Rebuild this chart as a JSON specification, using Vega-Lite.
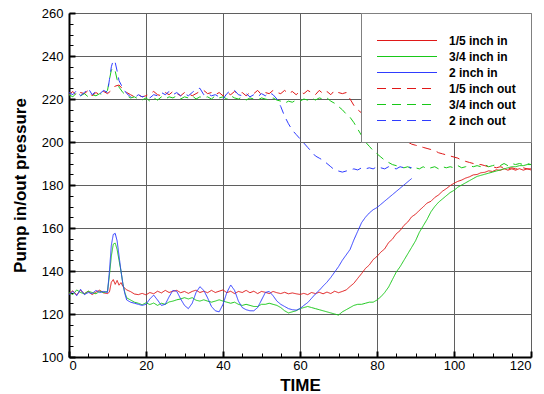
{
  "$schema": "https://vega.github.io/schema/vega-lite/v6.json",
  "width": 462,
  "height": 344,
  "autosize": {"type": "none"},
  "padding": {"left": 69, "top": 13, "right": 13, "bottom": 37},
  "background": "white",
  "config": {
    "view": {"stroke": null},
    "font": "Liberation Sans"
  },
  "data": {
    "values": [
      {"s":"1/5 inch in","t":0,"v":129.5},{"s":"1/5 inch in","t":1,"v":130.8},{"s":"1/5 inch in","t":2,"v":128.9},{"s":"1/5 inch in","t":3,"v":131},{"s":"1/5 inch in","t":4,"v":129.4},{"s":"1/5 inch in","t":5,"v":130.6},{"s":"1/5 inch in","t":6,"v":129},{"s":"1/5 inch in","t":7,"v":130.2},{"s":"1/5 inch in","t":8,"v":131.1},{"s":"1/5 inch in","t":9,"v":129.8},{"s":"1/5 inch in","t":10,"v":129.5},{"s":"1/5 inch in","t":10.5,"v":130.2},{"s":"1/5 inch in","t":11,"v":134.8},{"s":"1/5 inch in","t":11.5,"v":136},{"s":"1/5 inch in","t":12,"v":133.8},{"s":"1/5 inch in","t":12.5,"v":135.6},{"s":"1/5 inch in","t":13,"v":133.4},{"s":"1/5 inch in","t":13.5,"v":134.6},{"s":"1/5 inch in","t":14,"v":132.8},{"s":"1/5 inch in","t":15,"v":131.2},{"s":"1/5 inch in","t":16,"v":130.4},{"s":"1/5 inch in","t":17,"v":129.3},{"s":"1/5 inch in","t":18,"v":129},{"s":"1/5 inch in","t":19,"v":129.6},{"s":"1/5 inch in","t":20,"v":128.9},{"s":"1/5 inch in","t":21,"v":130},{"s":"1/5 inch in","t":22,"v":129.4},{"s":"1/5 inch in","t":23,"v":130.6},{"s":"1/5 inch in","t":24,"v":129.8},{"s":"1/5 inch in","t":25,"v":131},{"s":"1/5 inch in","t":26,"v":130},{"s":"1/5 inch in","t":27,"v":130.6},{"s":"1/5 inch in","t":28,"v":131},{"s":"1/5 inch in","t":29,"v":129.9},{"s":"1/5 inch in","t":30,"v":130.5},{"s":"1/5 inch in","t":31,"v":129.6},{"s":"1/5 inch in","t":32,"v":130.5},{"s":"1/5 inch in","t":33,"v":131.1},{"s":"1/5 inch in","t":34,"v":130},{"s":"1/5 inch in","t":35,"v":130.6},{"s":"1/5 inch in","t":36,"v":129.9},{"s":"1/5 inch in","t":37,"v":131},{"s":"1/5 inch in","t":38,"v":130},{"s":"1/5 inch in","t":39,"v":130.6},{"s":"1/5 inch in","t":40,"v":131.2},{"s":"1/5 inch in","t":41,"v":129.9},{"s":"1/5 inch in","t":42,"v":130.6},{"s":"1/5 inch in","t":43,"v":129.5},{"s":"1/5 inch in","t":44,"v":130.5},{"s":"1/5 inch in","t":45,"v":130},{"s":"1/5 inch in","t":46,"v":131},{"s":"1/5 inch in","t":47,"v":129.9},{"s":"1/5 inch in","t":48,"v":130.6},{"s":"1/5 inch in","t":49,"v":129.5},{"s":"1/5 inch in","t":50,"v":130.5},{"s":"1/5 inch in","t":51,"v":130.1},{"s":"1/5 inch in","t":52,"v":129.5},{"s":"1/5 inch in","t":53,"v":130.5},{"s":"1/5 inch in","t":54,"v":129.9},{"s":"1/5 inch in","t":55,"v":129.5},{"s":"1/5 inch in","t":56,"v":130.1},{"s":"1/5 inch in","t":57,"v":129.4},{"s":"1/5 inch in","t":58,"v":129.8},{"s":"1/5 inch in","t":59,"v":129.4},{"s":"1/5 inch in","t":60,"v":129.1},{"s":"1/5 inch in","t":61,"v":129.6},{"s":"1/5 inch in","t":62,"v":129},{"s":"1/5 inch in","t":63,"v":130},{"s":"1/5 inch in","t":64,"v":129.5},{"s":"1/5 inch in","t":65,"v":130.1},{"s":"1/5 inch in","t":66,"v":129.4},{"s":"1/5 inch in","t":67,"v":130.2},{"s":"1/5 inch in","t":68,"v":129.5},{"s":"1/5 inch in","t":69,"v":130.6},{"s":"1/5 inch in","t":70,"v":129.9},{"s":"1/5 inch in","t":71,"v":130.5},{"s":"1/5 inch in","t":72,"v":131.2},{"s":"1/5 inch in","t":73,"v":132.8},{"s":"1/5 inch in","t":74,"v":134.3},{"s":"1/5 inch in","t":75,"v":136.6},{"s":"1/5 inch in","t":76,"v":138.8},{"s":"1/5 inch in","t":77,"v":141.2},{"s":"1/5 inch in","t":78,"v":142.8},{"s":"1/5 inch in","t":79,"v":145.3},{"s":"1/5 inch in","t":80,"v":146.8},{"s":"1/5 inch in","t":81,"v":148.8},{"s":"1/5 inch in","t":82,"v":150.3},{"s":"1/5 inch in","t":83,"v":153.2},{"s":"1/5 inch in","t":84,"v":154.8},{"s":"1/5 inch in","t":85,"v":157.3},{"s":"1/5 inch in","t":86,"v":158.8},{"s":"1/5 inch in","t":87,"v":161.2},{"s":"1/5 inch in","t":88,"v":162.8},{"s":"1/5 inch in","t":89,"v":165.2},{"s":"1/5 inch in","t":90,"v":166.4},{"s":"1/5 inch in","t":91,"v":168.2},{"s":"1/5 inch in","t":92,"v":169.8},{"s":"1/5 inch in","t":93,"v":171.6},{"s":"1/5 inch in","t":94,"v":172.4},{"s":"1/5 inch in","t":95,"v":174.2},{"s":"1/5 inch in","t":96,"v":175.4},{"s":"1/5 inch in","t":97,"v":177.1},{"s":"1/5 inch in","t":98,"v":178.3},{"s":"1/5 inch in","t":99,"v":179.7},{"s":"1/5 inch in","t":100,"v":180.8},{"s":"1/5 inch in","t":101,"v":181.7},{"s":"1/5 inch in","t":102,"v":182.3},{"s":"1/5 inch in","t":103,"v":183.2},{"s":"1/5 inch in","t":104,"v":183.8},{"s":"1/5 inch in","t":105,"v":184.7},{"s":"1/5 inch in","t":106,"v":184.9},{"s":"1/5 inch in","t":107,"v":185.7},{"s":"1/5 inch in","t":108,"v":185.9},{"s":"1/5 inch in","t":109,"v":186.6},{"s":"1/5 inch in","t":110,"v":186.3},{"s":"1/5 inch in","t":111,"v":187.1},{"s":"1/5 inch in","t":112,"v":186.8},{"s":"1/5 inch in","t":113,"v":187.6},{"s":"1/5 inch in","t":114,"v":186.9},{"s":"1/5 inch in","t":115,"v":187.5},{"s":"1/5 inch in","t":116,"v":186.9},{"s":"1/5 inch in","t":117,"v":187.6},{"s":"1/5 inch in","t":118,"v":186.9},{"s":"1/5 inch in","t":119,"v":187.5},{"s":"1/5 inch in","t":120,"v":187},

      {"s":"3/4 inch in","t":0,"v":130},{"s":"3/4 inch in","t":1,"v":129},{"s":"3/4 inch in","t":2,"v":131.2},{"s":"3/4 inch in","t":3,"v":130},{"s":"3/4 inch in","t":4,"v":129.4},{"s":"3/4 inch in","t":5,"v":130.6},{"s":"3/4 inch in","t":6,"v":130},{"s":"3/4 inch in","t":7,"v":129.4},{"s":"3/4 inch in","t":8,"v":130.6},{"s":"3/4 inch in","t":9,"v":130},{"s":"3/4 inch in","t":10,"v":130.5},{"s":"3/4 inch in","t":10.5,"v":138},{"s":"3/4 inch in","t":11,"v":147},{"s":"3/4 inch in","t":11.5,"v":152.5},{"s":"3/4 inch in","t":12,"v":153},{"s":"3/4 inch in","t":12.5,"v":150},{"s":"3/4 inch in","t":13,"v":145},{"s":"3/4 inch in","t":13.5,"v":140},{"s":"3/4 inch in","t":14,"v":134},{"s":"3/4 inch in","t":14.5,"v":130},{"s":"3/4 inch in","t":15,"v":127.5},{"s":"3/4 inch in","t":16,"v":126.5},{"s":"3/4 inch in","t":17,"v":125.5},{"s":"3/4 inch in","t":18,"v":125},{"s":"3/4 inch in","t":19,"v":124.3},{"s":"3/4 inch in","t":20,"v":125.2},{"s":"3/4 inch in","t":21,"v":124.4},{"s":"3/4 inch in","t":22,"v":125.1},{"s":"3/4 inch in","t":23,"v":124},{"s":"3/4 inch in","t":24,"v":125},{"s":"3/4 inch in","t":25,"v":124.5},{"s":"3/4 inch in","t":26,"v":125.6},{"s":"3/4 inch in","t":27,"v":126},{"s":"3/4 inch in","t":28,"v":126.6},{"s":"3/4 inch in","t":29,"v":127},{"s":"3/4 inch in","t":30,"v":127.6},{"s":"3/4 inch in","t":31,"v":127},{"s":"3/4 inch in","t":32,"v":127.6},{"s":"3/4 inch in","t":33,"v":126.4},{"s":"3/4 inch in","t":34,"v":126},{"s":"3/4 inch in","t":35,"v":126.6},{"s":"3/4 inch in","t":36,"v":126},{"s":"3/4 inch in","t":37,"v":125.5},{"s":"3/4 inch in","t":38,"v":126},{"s":"3/4 inch in","t":39,"v":126.6},{"s":"3/4 inch in","t":40,"v":126},{"s":"3/4 inch in","t":41,"v":125.5},{"s":"3/4 inch in","t":42,"v":125},{"s":"3/4 inch in","t":43,"v":125.5},{"s":"3/4 inch in","t":44,"v":124.5},{"s":"3/4 inch in","t":45,"v":124},{"s":"3/4 inch in","t":46,"v":124.5},{"s":"3/4 inch in","t":47,"v":124},{"s":"3/4 inch in","t":48,"v":123.5},{"s":"3/4 inch in","t":49,"v":123.5},{"s":"3/4 inch in","t":50,"v":124.5},{"s":"3/4 inch in","t":51,"v":124.5},{"s":"3/4 inch in","t":52,"v":125},{"s":"3/4 inch in","t":53,"v":124.5},{"s":"3/4 inch in","t":54,"v":124},{"s":"3/4 inch in","t":55,"v":123},{"s":"3/4 inch in","t":56,"v":121.5},{"s":"3/4 inch in","t":57,"v":120.5},{"s":"3/4 inch in","t":58,"v":121},{"s":"3/4 inch in","t":59,"v":121.5},{"s":"3/4 inch in","t":60,"v":122.5},{"s":"3/4 inch in","t":61,"v":123},{"s":"3/4 inch in","t":62,"v":123.5},{"s":"3/4 inch in","t":63,"v":123},{"s":"3/4 inch in","t":64,"v":122.5},{"s":"3/4 inch in","t":65,"v":122},{"s":"3/4 inch in","t":66,"v":121.5},{"s":"3/4 inch in","t":67,"v":121},{"s":"3/4 inch in","t":68,"v":120.5},{"s":"3/4 inch in","t":69,"v":120},{"s":"3/4 inch in","t":70,"v":119.5},{"s":"3/4 inch in","t":71,"v":121},{"s":"3/4 inch in","t":72,"v":122},{"s":"3/4 inch in","t":73,"v":123},{"s":"3/4 inch in","t":74,"v":124},{"s":"3/4 inch in","t":75,"v":124.5},{"s":"3/4 inch in","t":76,"v":124.5},{"s":"3/4 inch in","t":77,"v":125},{"s":"3/4 inch in","t":78,"v":125.5},{"s":"3/4 inch in","t":79,"v":125.5},{"s":"3/4 inch in","t":80,"v":126.5},{"s":"3/4 inch in","t":81,"v":128},{"s":"3/4 inch in","t":82,"v":130},{"s":"3/4 inch in","t":83,"v":132.5},{"s":"3/4 inch in","t":84,"v":136},{"s":"3/4 inch in","t":85,"v":139.5},{"s":"3/4 inch in","t":86,"v":142},{"s":"3/4 inch in","t":87,"v":145},{"s":"3/4 inch in","t":88,"v":148},{"s":"3/4 inch in","t":89,"v":151},{"s":"3/4 inch in","t":90,"v":154},{"s":"3/4 inch in","t":91,"v":158},{"s":"3/4 inch in","t":92,"v":161},{"s":"3/4 inch in","t":93,"v":164},{"s":"3/4 inch in","t":94,"v":167.5},{"s":"3/4 inch in","t":95,"v":170},{"s":"3/4 inch in","t":96,"v":172},{"s":"3/4 inch in","t":97,"v":173.5},{"s":"3/4 inch in","t":98,"v":175},{"s":"3/4 inch in","t":99,"v":176.5},{"s":"3/4 inch in","t":100,"v":177.5},{"s":"3/4 inch in","t":101,"v":179},{"s":"3/4 inch in","t":102,"v":180},{"s":"3/4 inch in","t":103,"v":181},{"s":"3/4 inch in","t":104,"v":182},{"s":"3/4 inch in","t":105,"v":183},{"s":"3/4 inch in","t":106,"v":184},{"s":"3/4 inch in","t":107,"v":184.5},{"s":"3/4 inch in","t":108,"v":185},{"s":"3/4 inch in","t":109,"v":185.5},{"s":"3/4 inch in","t":110,"v":186},{"s":"3/4 inch in","t":111,"v":186.5},{"s":"3/4 inch in","t":112,"v":187},{"s":"3/4 inch in","t":113,"v":187.5},{"s":"3/4 inch in","t":114,"v":188},{"s":"3/4 inch in","t":115,"v":188.5},{"s":"3/4 inch in","t":116,"v":188.5},{"s":"3/4 inch in","t":117,"v":189},{"s":"3/4 inch in","t":118,"v":189},{"s":"3/4 inch in","t":119,"v":189.5},{"s":"3/4 inch in","t":120,"v":189.5},

      {"s":"2 inch in","t":0,"v":129},{"s":"2 inch in","t":1,"v":130.5},{"s":"2 inch in","t":2,"v":128.5},{"s":"2 inch in","t":3,"v":131.5},{"s":"2 inch in","t":4,"v":129},{"s":"2 inch in","t":5,"v":130},{"s":"2 inch in","t":6,"v":129.5},{"s":"2 inch in","t":7,"v":131},{"s":"2 inch in","t":8,"v":130},{"s":"2 inch in","t":9,"v":130.5},{"s":"2 inch in","t":10,"v":130},{"s":"2 inch in","t":10.5,"v":140},{"s":"2 inch in","t":11,"v":152},{"s":"2 inch in","t":11.5,"v":157},{"s":"2 inch in","t":12,"v":157.5},{"s":"2 inch in","t":12.5,"v":154},{"s":"2 inch in","t":13,"v":147},{"s":"2 inch in","t":13.5,"v":140},{"s":"2 inch in","t":14,"v":134},{"s":"2 inch in","t":14.5,"v":129.5},{"s":"2 inch in","t":15,"v":126.5},{"s":"2 inch in","t":16,"v":125.5},{"s":"2 inch in","t":17,"v":125},{"s":"2 inch in","t":18,"v":124.5},{"s":"2 inch in","t":19,"v":124},{"s":"2 inch in","t":20,"v":124.5},{"s":"2 inch in","t":21,"v":127},{"s":"2 inch in","t":22,"v":128.8},{"s":"2 inch in","t":23,"v":126.5},{"s":"2 inch in","t":24,"v":124},{"s":"2 inch in","t":25,"v":124.5},{"s":"2 inch in","t":26,"v":128},{"s":"2 inch in","t":27,"v":131},{"s":"2 inch in","t":28,"v":130.5},{"s":"2 inch in","t":29,"v":127},{"s":"2 inch in","t":30,"v":124},{"s":"2 inch in","t":31,"v":122.5},{"s":"2 inch in","t":32,"v":125},{"s":"2 inch in","t":33,"v":130},{"s":"2 inch in","t":34,"v":132.7},{"s":"2 inch in","t":35,"v":131},{"s":"2 inch in","t":36,"v":127.5},{"s":"2 inch in","t":37,"v":123.5},{"s":"2 inch in","t":38,"v":121.5},{"s":"2 inch in","t":39,"v":121},{"s":"2 inch in","t":40,"v":124.5},{"s":"2 inch in","t":41,"v":130},{"s":"2 inch in","t":42,"v":133.5},{"s":"2 inch in","t":43,"v":131},{"s":"2 inch in","t":44,"v":126},{"s":"2 inch in","t":45,"v":123},{"s":"2 inch in","t":46,"v":122},{"s":"2 inch in","t":47,"v":121.5},{"s":"2 inch in","t":48,"v":121.5},{"s":"2 inch in","t":49,"v":123},{"s":"2 inch in","t":50,"v":126.5},{"s":"2 inch in","t":51,"v":130},{"s":"2 inch in","t":52,"v":130.5},{"s":"2 inch in","t":53,"v":128.5},{"s":"2 inch in","t":54,"v":126},{"s":"2 inch in","t":55,"v":124.5},{"s":"2 inch in","t":56,"v":123.5},{"s":"2 inch in","t":57,"v":122.5},{"s":"2 inch in","t":58,"v":122},{"s":"2 inch in","t":59,"v":121.8},{"s":"2 inch in","t":60,"v":122.5},{"s":"2 inch in","t":61,"v":124},{"s":"2 inch in","t":62,"v":125.3},{"s":"2 inch in","t":63,"v":127.3},{"s":"2 inch in","t":64,"v":129.3},{"s":"2 inch in","t":65,"v":131},{"s":"2 inch in","t":66,"v":133},{"s":"2 inch in","t":67,"v":134.8},{"s":"2 inch in","t":68,"v":137},{"s":"2 inch in","t":69,"v":139.5},{"s":"2 inch in","t":70,"v":142},{"s":"2 inch in","t":71,"v":145},{"s":"2 inch in","t":72,"v":147.5},{"s":"2 inch in","t":73,"v":150},{"s":"2 inch in","t":74,"v":154.5},{"s":"2 inch in","t":75,"v":158.5},{"s":"2 inch in","t":76,"v":162.5},{"s":"2 inch in","t":77,"v":165},{"s":"2 inch in","t":78,"v":167},{"s":"2 inch in","t":79,"v":168.5},{"s":"2 inch in","t":80,"v":169.5},{"s":"2 inch in","t":81,"v":171},{"s":"2 inch in","t":82,"v":172.5},{"s":"2 inch in","t":83,"v":174},{"s":"2 inch in","t":84,"v":175.5},{"s":"2 inch in","t":85,"v":177},{"s":"2 inch in","t":86,"v":178.5},{"s":"2 inch in","t":87,"v":180},{"s":"2 inch in","t":88,"v":181.5},{"s":"2 inch in","t":89,"v":183},

      {"s":"1/5 inch out","t":0,"v":222},{"s":"1/5 inch out","t":1,"v":223.5},{"s":"1/5 inch out","t":2,"v":221.5},{"s":"1/5 inch out","t":3,"v":223},{"s":"1/5 inch out","t":4,"v":222.5},{"s":"1/5 inch out","t":5,"v":224},{"s":"1/5 inch out","t":6,"v":221.5},{"s":"1/5 inch out","t":7,"v":223},{"s":"1/5 inch out","t":8,"v":222},{"s":"1/5 inch out","t":9,"v":223.5},{"s":"1/5 inch out","t":10,"v":222.5},{"s":"1/5 inch out","t":11,"v":224},{"s":"1/5 inch out","t":12,"v":226},{"s":"1/5 inch out","t":13,"v":226.5},{"s":"1/5 inch out","t":14,"v":224.5},{"s":"1/5 inch out","t":15,"v":223},{"s":"1/5 inch out","t":16,"v":222},{"s":"1/5 inch out","t":17,"v":221},{"s":"1/5 inch out","t":18,"v":222},{"s":"1/5 inch out","t":19,"v":221},{"s":"1/5 inch out","t":20,"v":221.5},{"s":"1/5 inch out","t":21,"v":222.5},{"s":"1/5 inch out","t":22,"v":223.5},{"s":"1/5 inch out","t":23,"v":222},{"s":"1/5 inch out","t":24,"v":221.5},{"s":"1/5 inch out","t":25,"v":223},{"s":"1/5 inch out","t":26,"v":222},{"s":"1/5 inch out","t":27,"v":223.5},{"s":"1/5 inch out","t":28,"v":222.5},{"s":"1/5 inch out","t":29,"v":221.5},{"s":"1/5 inch out","t":30,"v":223},{"s":"1/5 inch out","t":31,"v":222.5},{"s":"1/5 inch out","t":32,"v":221.5},{"s":"1/5 inch out","t":33,"v":222.5},{"s":"1/5 inch out","t":34,"v":223.5},{"s":"1/5 inch out","t":35,"v":224},{"s":"1/5 inch out","t":36,"v":222.5},{"s":"1/5 inch out","t":37,"v":223},{"s":"1/5 inch out","t":38,"v":222},{"s":"1/5 inch out","t":39,"v":223},{"s":"1/5 inch out","t":40,"v":221.5},{"s":"1/5 inch out","t":41,"v":223},{"s":"1/5 inch out","t":42,"v":222},{"s":"1/5 inch out","t":43,"v":223.5},{"s":"1/5 inch out","t":44,"v":222.5},{"s":"1/5 inch out","t":45,"v":223},{"s":"1/5 inch out","t":46,"v":221.5},{"s":"1/5 inch out","t":47,"v":223},{"s":"1/5 inch out","t":48,"v":222.5},{"s":"1/5 inch out","t":49,"v":224},{"s":"1/5 inch out","t":50,"v":222},{"s":"1/5 inch out","t":51,"v":223},{"s":"1/5 inch out","t":52,"v":222.5},{"s":"1/5 inch out","t":53,"v":224},{"s":"1/5 inch out","t":54,"v":223},{"s":"1/5 inch out","t":55,"v":222.5},{"s":"1/5 inch out","t":56,"v":224},{"s":"1/5 inch out","t":57,"v":222.5},{"s":"1/5 inch out","t":58,"v":223.5},{"s":"1/5 inch out","t":59,"v":222},{"s":"1/5 inch out","t":60,"v":223.5},{"s":"1/5 inch out","t":61,"v":222.5},{"s":"1/5 inch out","t":62,"v":224},{"s":"1/5 inch out","t":63,"v":223},{"s":"1/5 inch out","t":64,"v":222},{"s":"1/5 inch out","t":65,"v":224},{"s":"1/5 inch out","t":66,"v":222.5},{"s":"1/5 inch out","t":67,"v":223.5},{"s":"1/5 inch out","t":68,"v":222},{"s":"1/5 inch out","t":69,"v":224},{"s":"1/5 inch out","t":70,"v":223},{"s":"1/5 inch out","t":71,"v":222.5},{"s":"1/5 inch out","t":72,"v":223},{"s":"1/5 inch out","t":73,"v":220},{"s":"1/5 inch out","t":74,"v":217},{"s":"1/5 inch out","t":75,"v":215},{"s":"1/5 inch out","t":76,"v":213.5},{"s":"1/5 inch out","t":77,"v":212},{"s":"1/5 inch out","t":78,"v":210.5},{"s":"1/5 inch out","t":79,"v":209},{"s":"1/5 inch out","t":80,"v":208},{"s":"1/5 inch out","t":81,"v":207},{"s":"1/5 inch out","t":82,"v":205.5},{"s":"1/5 inch out","t":83,"v":204},{"s":"1/5 inch out","t":84,"v":203},{"s":"1/5 inch out","t":85,"v":202},{"s":"1/5 inch out","t":86,"v":201},{"s":"1/5 inch out","t":87,"v":200.5},{"s":"1/5 inch out","t":88,"v":200},{"s":"1/5 inch out","t":89,"v":199},{"s":"1/5 inch out","t":90,"v":198.5},{"s":"1/5 inch out","t":91,"v":198},{"s":"1/5 inch out","t":92,"v":197.5},{"s":"1/5 inch out","t":93,"v":197},{"s":"1/5 inch out","t":94,"v":196.5},{"s":"1/5 inch out","t":95,"v":196},{"s":"1/5 inch out","t":96,"v":195},{"s":"1/5 inch out","t":97,"v":194.5},{"s":"1/5 inch out","t":98,"v":194},{"s":"1/5 inch out","t":99,"v":193.5},{"s":"1/5 inch out","t":100,"v":193},{"s":"1/5 inch out","t":101,"v":192.5},{"s":"1/5 inch out","t":102,"v":191.5},{"s":"1/5 inch out","t":103,"v":191},{"s":"1/5 inch out","t":104,"v":190.5},{"s":"1/5 inch out","t":105,"v":190},{"s":"1/5 inch out","t":106,"v":189.5},{"s":"1/5 inch out","t":107,"v":189.5},{"s":"1/5 inch out","t":108,"v":189},{"s":"1/5 inch out","t":109,"v":188.5},{"s":"1/5 inch out","t":110,"v":188.5},{"s":"1/5 inch out","t":111,"v":188},{"s":"1/5 inch out","t":112,"v":188.5},{"s":"1/5 inch out","t":113,"v":188},{"s":"1/5 inch out","t":114,"v":187.5},{"s":"1/5 inch out","t":115,"v":188},{"s":"1/5 inch out","t":116,"v":187.5},{"s":"1/5 inch out","t":117,"v":187.5},{"s":"1/5 inch out","t":118,"v":188},{"s":"1/5 inch out","t":119,"v":187.5},{"s":"1/5 inch out","t":120,"v":187.5},

      {"s":"3/4 inch out","t":0,"v":222},{"s":"3/4 inch out","t":1,"v":221},{"s":"3/4 inch out","t":2,"v":223},{"s":"3/4 inch out","t":3,"v":221.5},{"s":"3/4 inch out","t":4,"v":222.5},{"s":"3/4 inch out","t":5,"v":221},{"s":"3/4 inch out","t":6,"v":222},{"s":"3/4 inch out","t":7,"v":221.5},{"s":"3/4 inch out","t":8,"v":222.5},{"s":"3/4 inch out","t":9,"v":222},{"s":"3/4 inch out","t":10,"v":224},{"s":"3/4 inch out","t":10.5,"v":229},{"s":"3/4 inch out","t":11,"v":233.5},{"s":"3/4 inch out","t":11.5,"v":234.5},{"s":"3/4 inch out","t":12,"v":233},{"s":"3/4 inch out","t":12.5,"v":229},{"s":"3/4 inch out","t":13,"v":225.5},{"s":"3/4 inch out","t":14,"v":223},{"s":"3/4 inch out","t":15,"v":221.5},{"s":"3/4 inch out","t":16,"v":220.5},{"s":"3/4 inch out","t":17,"v":221},{"s":"3/4 inch out","t":18,"v":220},{"s":"3/4 inch out","t":19,"v":219.5},{"s":"3/4 inch out","t":20,"v":220.5},{"s":"3/4 inch out","t":21,"v":219},{"s":"3/4 inch out","t":22,"v":220.5},{"s":"3/4 inch out","t":23,"v":219.5},{"s":"3/4 inch out","t":24,"v":221},{"s":"3/4 inch out","t":25,"v":220},{"s":"3/4 inch out","t":26,"v":221},{"s":"3/4 inch out","t":27,"v":220.5},{"s":"3/4 inch out","t":28,"v":221.5},{"s":"3/4 inch out","t":29,"v":220},{"s":"3/4 inch out","t":30,"v":221},{"s":"3/4 inch out","t":31,"v":220.5},{"s":"3/4 inch out","t":32,"v":221.5},{"s":"3/4 inch out","t":33,"v":220},{"s":"3/4 inch out","t":34,"v":221},{"s":"3/4 inch out","t":35,"v":220.5},{"s":"3/4 inch out","t":36,"v":221},{"s":"3/4 inch out","t":37,"v":220},{"s":"3/4 inch out","t":38,"v":221.5},{"s":"3/4 inch out","t":39,"v":220.5},{"s":"3/4 inch out","t":40,"v":221},{"s":"3/4 inch out","t":41,"v":220},{"s":"3/4 inch out","t":42,"v":221.5},{"s":"3/4 inch out","t":43,"v":220.5},{"s":"3/4 inch out","t":44,"v":220},{"s":"3/4 inch out","t":45,"v":221},{"s":"3/4 inch out","t":46,"v":219.5},{"s":"3/4 inch out","t":47,"v":220.5},{"s":"3/4 inch out","t":48,"v":220},{"s":"3/4 inch out","t":49,"v":219.5},{"s":"3/4 inch out","t":50,"v":220.5},{"s":"3/4 inch out","t":51,"v":220},{"s":"3/4 inch out","t":52,"v":219.5},{"s":"3/4 inch out","t":53,"v":220.5},{"s":"3/4 inch out","t":54,"v":219.5},{"s":"3/4 inch out","t":55,"v":219},{"s":"3/4 inch out","t":56,"v":218},{"s":"3/4 inch out","t":57,"v":219},{"s":"3/4 inch out","t":58,"v":218.5},{"s":"3/4 inch out","t":59,"v":219.5},{"s":"3/4 inch out","t":60,"v":219},{"s":"3/4 inch out","t":61,"v":220},{"s":"3/4 inch out","t":62,"v":219.5},{"s":"3/4 inch out","t":63,"v":220.5},{"s":"3/4 inch out","t":64,"v":219.5},{"s":"3/4 inch out","t":65,"v":220.5},{"s":"3/4 inch out","t":66,"v":220},{"s":"3/4 inch out","t":67,"v":220.5},{"s":"3/4 inch out","t":68,"v":219},{"s":"3/4 inch out","t":69,"v":218},{"s":"3/4 inch out","t":70,"v":216.5},{"s":"3/4 inch out","t":71,"v":215},{"s":"3/4 inch out","t":72,"v":213},{"s":"3/4 inch out","t":73,"v":211.5},{"s":"3/4 inch out","t":74,"v":209},{"s":"3/4 inch out","t":75,"v":206},{"s":"3/4 inch out","t":76,"v":203},{"s":"3/4 inch out","t":77,"v":200},{"s":"3/4 inch out","t":78,"v":198},{"s":"3/4 inch out","t":79,"v":196},{"s":"3/4 inch out","t":80,"v":194.5},{"s":"3/4 inch out","t":81,"v":193},{"s":"3/4 inch out","t":82,"v":191.5},{"s":"3/4 inch out","t":83,"v":190.5},{"s":"3/4 inch out","t":84,"v":189.5},{"s":"3/4 inch out","t":85,"v":189},{"s":"3/4 inch out","t":86,"v":188.5},{"s":"3/4 inch out","t":87,"v":188},{"s":"3/4 inch out","t":88,"v":188.5},{"s":"3/4 inch out","t":89,"v":187.5},{"s":"3/4 inch out","t":90,"v":188},{"s":"3/4 inch out","t":91,"v":187.5},{"s":"3/4 inch out","t":92,"v":188.5},{"s":"3/4 inch out","t":93,"v":187.5},{"s":"3/4 inch out","t":94,"v":188},{"s":"3/4 inch out","t":95,"v":188.5},{"s":"3/4 inch out","t":96,"v":187.5},{"s":"3/4 inch out","t":97,"v":188.5},{"s":"3/4 inch out","t":98,"v":188},{"s":"3/4 inch out","t":99,"v":188.5},{"s":"3/4 inch out","t":100,"v":188},{"s":"3/4 inch out","t":101,"v":189},{"s":"3/4 inch out","t":102,"v":188},{"s":"3/4 inch out","t":103,"v":188.5},{"s":"3/4 inch out","t":104,"v":189},{"s":"3/4 inch out","t":105,"v":188.5},{"s":"3/4 inch out","t":106,"v":189},{"s":"3/4 inch out","t":107,"v":188.5},{"s":"3/4 inch out","t":108,"v":189.5},{"s":"3/4 inch out","t":109,"v":188.5},{"s":"3/4 inch out","t":110,"v":189},{"s":"3/4 inch out","t":111,"v":189.5},{"s":"3/4 inch out","t":112,"v":189},{"s":"3/4 inch out","t":113,"v":190},{"s":"3/4 inch out","t":114,"v":189},{"s":"3/4 inch out","t":115,"v":190},{"s":"3/4 inch out","t":116,"v":189.5},{"s":"3/4 inch out","t":117,"v":190},{"s":"3/4 inch out","t":118,"v":189.5},{"s":"3/4 inch out","t":119,"v":190},{"s":"3/4 inch out","t":120,"v":189.5},

      {"s":"2 inch out","t":0,"v":223},{"s":"2 inch out","t":1,"v":222},{"s":"2 inch out","t":2,"v":224},{"s":"2 inch out","t":3,"v":221.5},{"s":"2 inch out","t":4,"v":223},{"s":"2 inch out","t":5,"v":225},{"s":"2 inch out","t":6,"v":222},{"s":"2 inch out","t":7,"v":223.5},{"s":"2 inch out","t":8,"v":222.5},{"s":"2 inch out","t":9,"v":224},{"s":"2 inch out","t":10,"v":223},{"s":"2 inch out","t":10.5,"v":229},{"s":"2 inch out","t":11,"v":235},{"s":"2 inch out","t":11.5,"v":238},{"s":"2 inch out","t":12,"v":237},{"s":"2 inch out","t":12.5,"v":233},{"s":"2 inch out","t":13,"v":228.5},{"s":"2 inch out","t":14,"v":225},{"s":"2 inch out","t":15,"v":222.5},{"s":"2 inch out","t":16,"v":221},{"s":"2 inch out","t":17,"v":220.5},{"s":"2 inch out","t":18,"v":222},{"s":"2 inch out","t":19,"v":221},{"s":"2 inch out","t":20,"v":221.5},{"s":"2 inch out","t":21,"v":220.5},{"s":"2 inch out","t":22,"v":222},{"s":"2 inch out","t":23,"v":221.5},{"s":"2 inch out","t":24,"v":223},{"s":"2 inch out","t":25,"v":222},{"s":"2 inch out","t":26,"v":223.5},{"s":"2 inch out","t":27,"v":222},{"s":"2 inch out","t":28,"v":223},{"s":"2 inch out","t":29,"v":221.5},{"s":"2 inch out","t":30,"v":222.5},{"s":"2 inch out","t":31,"v":221.5},{"s":"2 inch out","t":32,"v":223},{"s":"2 inch out","t":33,"v":224.5},{"s":"2 inch out","t":34,"v":225},{"s":"2 inch out","t":35,"v":222},{"s":"2 inch out","t":36,"v":222.5},{"s":"2 inch out","t":37,"v":221.5},{"s":"2 inch out","t":38,"v":222},{"s":"2 inch out","t":39,"v":221},{"s":"2 inch out","t":40,"v":220},{"s":"2 inch out","t":41,"v":222.5},{"s":"2 inch out","t":42,"v":224},{"s":"2 inch out","t":43,"v":224},{"s":"2 inch out","t":44,"v":222},{"s":"2 inch out","t":45,"v":221.5},{"s":"2 inch out","t":46,"v":222.5},{"s":"2 inch out","t":47,"v":221},{"s":"2 inch out","t":48,"v":222},{"s":"2 inch out","t":49,"v":221},{"s":"2 inch out","t":50,"v":222.5},{"s":"2 inch out","t":51,"v":221.5},{"s":"2 inch out","t":52,"v":223},{"s":"2 inch out","t":53,"v":222},{"s":"2 inch out","t":54,"v":220},{"s":"2 inch out","t":55,"v":216.5},{"s":"2 inch out","t":56,"v":212},{"s":"2 inch out","t":57,"v":208.5},{"s":"2 inch out","t":58,"v":205.5},{"s":"2 inch out","t":59,"v":203.5},{"s":"2 inch out","t":60,"v":201.5},{"s":"2 inch out","t":61,"v":199.5},{"s":"2 inch out","t":62,"v":197.5},{"s":"2 inch out","t":63,"v":195.5},{"s":"2 inch out","t":64,"v":193.5},{"s":"2 inch out","t":65,"v":192.5},{"s":"2 inch out","t":66,"v":191.5},{"s":"2 inch out","t":67,"v":190},{"s":"2 inch out","t":68,"v":188.5},{"s":"2 inch out","t":69,"v":187},{"s":"2 inch out","t":70,"v":186.5},{"s":"2 inch out","t":71,"v":186},{"s":"2 inch out","t":72,"v":186.5},{"s":"2 inch out","t":73,"v":187},{"s":"2 inch out","t":74,"v":187.5},{"s":"2 inch out","t":75,"v":187},{"s":"2 inch out","t":76,"v":188},{"s":"2 inch out","t":77,"v":187.5},{"s":"2 inch out","t":78,"v":188},{"s":"2 inch out","t":79,"v":187.5},{"s":"2 inch out","t":80,"v":188.5},{"s":"2 inch out","t":81,"v":188},{"s":"2 inch out","t":82,"v":187.5},{"s":"2 inch out","t":83,"v":188.5},{"s":"2 inch out","t":84,"v":188},{"s":"2 inch out","t":85,"v":187.5},{"s":"2 inch out","t":86,"v":188.5},{"s":"2 inch out","t":87,"v":188},{"s":"2 inch out","t":88,"v":188.5},{"s":"2 inch out","t":89,"v":188}
    ]
  },
  "resolve": {"axis": {"x": "independent", "y": "independent"}},
  "layer": [
    {
      "mark": {"type": "line", "strokeWidth": 1, "clip": true},
      "encoding": {
        "x": {
          "field": "t", "type": "quantitative",
          "scale": {"domain": [0, 120], "nice": false, "zero": false},
          "axis": {
            "orient": "bottom",
            "values": [0, 20, 40, 60, 80, 100, 120],
            "grid": true, "gridColor": "#5f5f5f", "gridWidth": 1,
            "domainColor": "black", "domainWidth": 2,
            "tickColor": "black", "tickWidth": 2, "tickSize": -6,
            "labelPadding": 8, "labelFont": "Liberation Sans", "labelFontSize": 13, "labelColor": "black",
            "title": "TIME", "titleFont": "Liberation Sans", "titleFontSize": 17, "titleFontWeight": "bold", "titleColor": "black", "titlePadding": 5
          }
        },
        "y": {
          "field": "v", "type": "quantitative",
          "scale": {"domain": [100, 260], "nice": false, "zero": false},
          "axis": {
            "orient": "left",
            "values": [100, 120, 140, 160, 180, 200, 220, 240, 260],
            "grid": true, "gridColor": "#5f5f5f", "gridWidth": 1,
            "domainColor": "black", "domainWidth": 2,
            "tickColor": "black", "tickWidth": 2, "tickSize": -6,
            "labelPadding": 12, "labelFont": "Liberation Sans", "labelFontSize": 13, "labelColor": "black",
            "title": "Pump in/out pressure", "titleFont": "Liberation Sans", "titleFontSize": 17, "titleFontWeight": "bold", "titleColor": "black", "titlePadding": 12
          }
        },
        "color": {
          "field": "s", "type": "nominal",
          "scale": {
            "domain": ["1/5 inch in", "3/4 inch in", "2 inch in", "1/5 inch out", "3/4 inch out", "2 inch out"],
            "range": ["#e01818", "#18c818", "#2f3cff", "#e01818", "#18c818", "#2f3cff"]
          },
          "legend": {
            "title": " ", "titleFontSize": 4, "titlePadding": 0, "orient": "top-right", "offset": 0, "padding": 15,
            "fillColor": "white", "strokeColor": "#808080",
            "symbolType": "M-1,0H7", "symbolSize": 225, "symbolStrokeWidth": 1.2,
            "labelFont": "Liberation Sans", "labelFontSize": 12, "labelFontWeight": "bold", "labelColor": "black",
            "labelOffset": 56, "rowPadding": 1, "labelLimit": 200
          }
        },
        "strokeDash": {
          "field": "s", "type": "nominal",
          "scale": {
            "domain": ["1/5 inch in", "3/4 inch in", "2 inch in", "1/5 inch out", "3/4 inch out", "2 inch out"],
            "range": [[1, 0], [1, 0], [1, 0], [9, 6], [9, 6], [9, 6]]
          },
          "legend": {
            "title": " ", "titleFontSize": 4, "titlePadding": 0, "orient": "top-right", "offset": 0, "padding": 15,
            "fillColor": "white", "strokeColor": "#808080",
            "symbolType": "M-1,0H7", "symbolSize": 225, "symbolStrokeWidth": 1.2,
            "labelFont": "Liberation Sans", "labelFontSize": 12, "labelFontWeight": "bold", "labelColor": "black",
            "labelOffset": 56, "rowPadding": 1, "labelLimit": 200
          }
        }
      }
    },
    {
      "mark": {"type": "line", "strokeOpacity": 0},
      "encoding": {
        "x": {
          "field": "t", "type": "quantitative",
          "axis": {
            "orient": "bottom",
            "values": [5, 10, 15, 25, 30, 35, 45, 50, 55, 65, 70, 75, 85, 90, 95, 105, 110, 115],
            "grid": false, "domain": false, "labels": false, "title": null,
            "tickColor": "black", "tickWidth": 1, "tickSize": -4
          }
        },
        "y": {
          "field": "v", "type": "quantitative",
          "axis": {
            "orient": "left",
            "values": [105, 110, 115, 125, 130, 135, 145, 150, 155, 165, 170, 175, 185, 190, 195, 205, 210, 215, 225, 230, 235, 245, 250, 255],
            "grid": false, "domain": false, "labels": false, "title": null,
            "tickColor": "black", "tickWidth": 1, "tickSize": -4
          }
        }
      }
    }
  ]
}
